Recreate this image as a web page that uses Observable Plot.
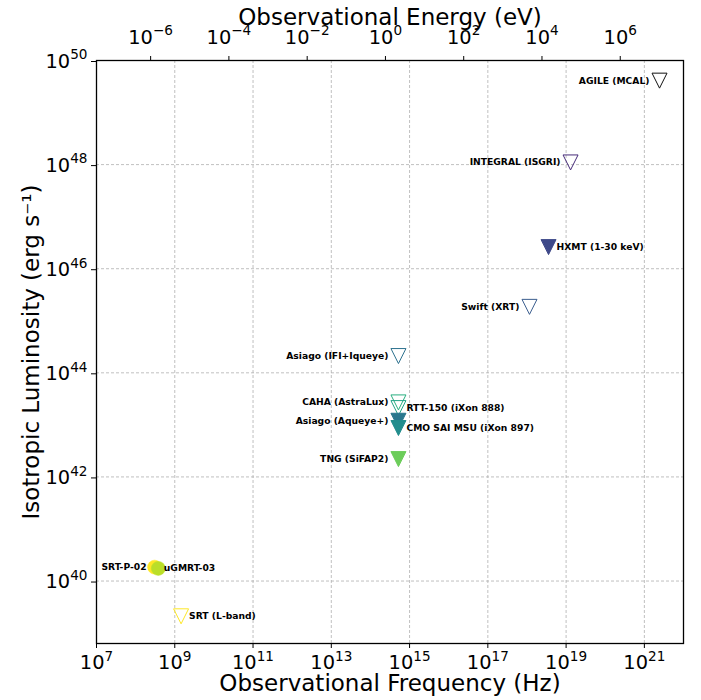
<!DOCTYPE html>
<html>
<head>
<meta charset="utf-8">
<script src="https://cdn.jsdelivr.net/npm/d3@7"></script>
<script src="https://cdn.jsdelivr.net/npm/@observablehq/plot@0.6"></script>
<style>
  html, body { margin: 0; padding: 0; background: #fff; }
  #chart svg { display: block; }
</style>
</head>
<body>
<div id="chart"></div>
<script>
// ---- data ----
const names = [
  "AGILE (MCAL)", "INTEGRAL (ISGRI)", "HXMT (1-30 keV)", "Swift (XRT)",
  "Asiago (IFI+Iqueye)", "CAHA (AstraLux)", "RTT-150 (iXon 888)", "Asiago (Aqueye+)",
  "CMO SAI MSU (iXon 897)", "TNG (SiFAP2)", "SRT-P-02", "uGMRT-03", "SRT (L-band)"
];
const freqHz = [2.44e21, 1.3e19, 3.56e18, 1.16e18, 5.2e14, 5.2e14, 5.2e14, 5.2e14, 5.2e14, 5.2e14, 3.05e8, 3.8e8, 1.45e9];
const lumErg = [4.1e49, 1.1e48, 2.6e46, 1.85e45, 2.1e44, 2.7e43, 2.1e43, 1.2e43, 8.7e42, 2.2e42, 1.85e40, 1.75e40, 2.1e39];
const upperLimit = [true, true, true, true, true, true, true, true, true, true, false, false, true];
const filled = [false, false, true, false, false, false, false, true, true, true, true, true, false];
const colors = ["#111111", "#472c7a", "#3e4989", "#3a5d8e", "#2c718e", "#29af7f", "#20a386", "#2a778e", "#228d8d", "#6ccd5a", "#fde725", "#bade28", "#fde725"];
const labelOnRight = ["HXMT (1-30 keV)", "RTT-150 (iXon 888)", "CMO SAI MSU (iXon 897)", "uGMRT-03", "SRT (L-band)"];

const freqTicks = [1e7, 1e9, 1e11, 1e13, 1e15, 1e17, 1e19, 1e21];
const energyTicksEV = [1e-6, 1e-4, 1e-2, 1e0, 1e2, 1e4, 1e6];
const lumTicks = [1e40, 1e42, 1e44, 1e46, 1e48, 1e50];

const xTitle = "Observational Frequency (Hz)";
const xTopTitle = "Observational Energy (eV)";
const yTitle = "Isotropic Luminosity (erg s\u207B\u00B9)";

// ---- derived ----
const H_EV_S = 4.135667696e-15; // Planck constant in eV s
const energyTicksHz = energyTicksEV.map(e => e / H_EV_S);
const rows = names.map((name, i) => ({
  name, freq: freqHz[i], lum: lumErg[i], limit: upperLimit[i], filled: filled[i], color: colors[i],
  right: labelOnRight.includes(name)
}));

const expLabel = v => {
  const e = Math.round(Math.log10(v));
  return "10^" + (e < 0 ? "\u2212" + (-e) : String(e));
};

// matplotlib-like downward triangle (bbox-centred)
const triDown = {
  draw(ctx, size) {
    const a = Math.sqrt(size / Math.PI);
    ctx.moveTo(0, a);
    ctx.lineTo(-a, -a);
    ctx.lineTo(a, -a);
    ctx.closePath();
  }
};

const tickFont = 19.4;
const titleFont = 23;
const labFont = 9.2;

const tri = rows.filter(d => d.limit);
const circ = rows.filter(d => !d.limit);

const chart = Plot.plot({
  width: 701,
  height: 700,
  marginLeft: 96,
  marginRight: 18,
  marginTop: 60,
  marginBottom: 57,
  style: { fontFamily: "DejaVu Sans", background: "#fff", color: "#000" },
  x: { type: "log", domain: [1e7, 1e22] },
  y: { type: "log", domain: [Math.pow(10, 38.8), 1e50] },
  color: { type: "identity" },
  marks: [
    Plot.gridX(freqTicks, { stroke: "#b0b0b0", strokeOpacity: 1, strokeWidth: 0.8, strokeDasharray: "3,2" }),
    Plot.gridY(lumTicks, { stroke: "#b0b0b0", strokeOpacity: 1, strokeWidth: 0.8, strokeDasharray: "3,2" }),
    Plot.axisX(freqTicks, { anchor: "bottom", tickSize: 5, tickPadding: 7, fontSize: tickFont, tickFormat: expLabel, label: null }),
    Plot.axisX(energyTicksHz, { anchor: "top", tickSize: 5, tickPadding: 12, fontSize: tickFont, tickFormat: v => expLabel(v * H_EV_S), label: null }),
    Plot.axisY(lumTicks, { anchor: "left", tickSize: 5, tickPadding: 4, fontSize: tickFont, tickFormat: expLabel, label: null, dy: 1 }),
    Plot.frame({ stroke: "#000", strokeWidth: 1.3 }),
    Plot.dot(tri, {
      x: "freq", y: "lum", symbol: triDown, r: 7.5,
      stroke: "color", fill: d => d.filled ? d.color : "none", strokeWidth: 1
    }),
    Plot.dot(circ, { x: "freq", y: "lum", r: 7, fill: "color", stroke: "color", strokeWidth: 0.5 }),
    Plot.text(tri.filter(d => !d.right), { x: "freq", y: "lum", text: "name", textAnchor: "end", dx: -10, fontSize: labFont, fontWeight: "bold", fill: "#000" }),
    Plot.text(tri.filter(d => d.right), { x: "freq", y: "lum", text: "name", textAnchor: "start", dx: 8, fontSize: labFont, fontWeight: "bold", fill: "#000" }),
    Plot.text(circ.filter(d => !d.right), { x: "freq", y: "lum", text: "name", textAnchor: "end", dx: -8, fontSize: labFont, fontWeight: "bold", fill: "#000" }),
    Plot.text(circ.filter(d => d.right), { x: "freq", y: "lum", text: "name", textAnchor: "start", dx: 5.5, fontSize: labFont, fontWeight: "bold", fill: "#000" }),
    Plot.text([xTitle], { text: d => d, frameAnchor: "bottom", textAnchor: "middle", lineAnchor: "middle", dy: 40, fontSize: titleFont, fill: "#000" }),
    Plot.text([xTopTitle], { text: d => d, frameAnchor: "top", textAnchor: "middle", lineAnchor: "middle", dy: -43, fontSize: titleFont, fill: "#000" }),
    Plot.text([yTitle], { text: d => d, frameAnchor: "left", textAnchor: "middle", lineAnchor: "middle", dx: -65, rotate: -90, fontSize: titleFont, fill: "#000" })
  ]
});

// turn "10^n" tick labels into real superscripts
const NS = "http://www.w3.org/2000/svg";
chart.querySelectorAll('g[aria-label$="tick label"] text').forEach(t => {
  const m = (t.textContent || "").match(/^10\^(.+)$/);
  if (!m) return;
  t.textContent = "";
  const base = document.createElementNS(NS, "tspan");
  base.textContent = "10";
  const sup = document.createElementNS(NS, "tspan");
  sup.textContent = m[1];
  sup.setAttribute("dy", "-8.4");
  sup.setAttribute("font-size", (tickFont * 0.7).toFixed(1));
  t.append(base, sup);
});

document.getElementById("chart").append(chart);
</script>
</body>
</html>
